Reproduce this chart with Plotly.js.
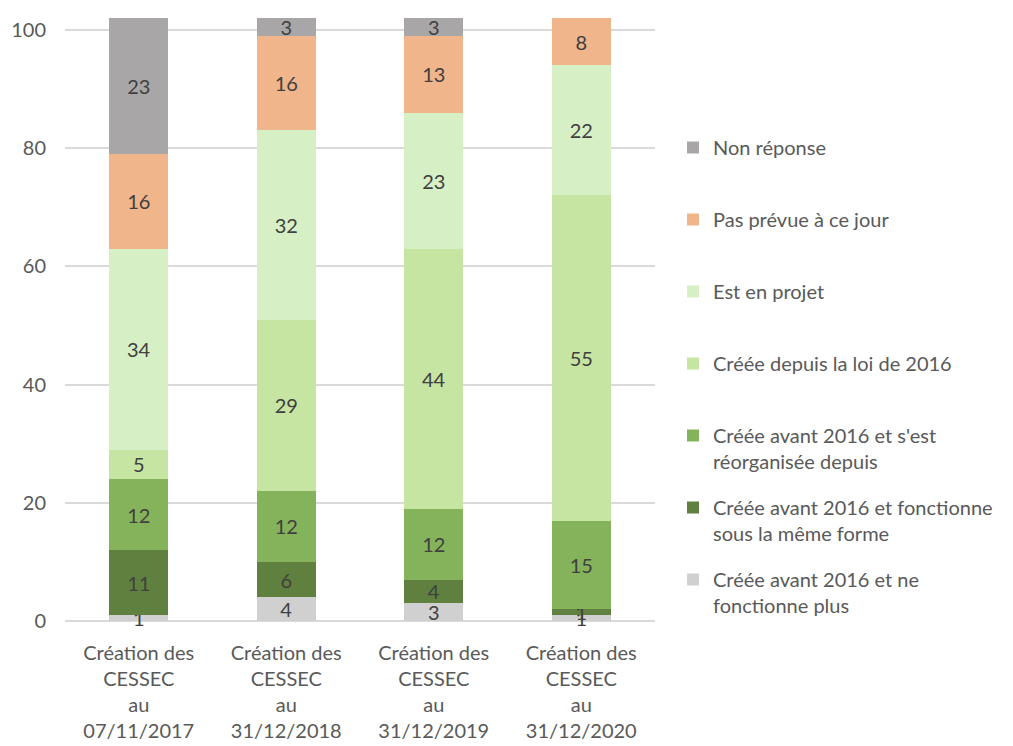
<!DOCTYPE html>
<html>
<head>
<meta charset="utf-8">
<script src="https://cdn.plot.ly/plotly-3.0.1.min.js"></script>
<style>html,body{margin:0;padding:0;background:#fff;}#chart{width:1013px;height:746px;}</style>
</head>
<body>
<div id="chart"></div>
<script>
const categories = [
  "Création des<br>CESSEC<br>au<br>07/11/2017",
  "Création des<br>CESSEC<br>au<br>31/12/2018",
  "Création des<br>CESSEC<br>au<br>31/12/2019",
  "Création des<br>CESSEC<br>au<br>31/12/2020"
];
const seriesNames = [
  "Créée avant 2016 et ne<br>fonctionne plus",
  "Créée avant 2016 et fonctionne<br>sous la même forme",
  "Créée avant 2016 et s'est<br>réorganisée depuis",
  "Créée depuis la loi de 2016<br> ",
  "Est en projet<br> ",
  "Pas prévue à ce jour<br> ",
  "Non réponse<br> "
];
const neFonctionnePlus = [1, 4, 3, 1];
const memeForme = [11, 6, 4, 1];
const reorganisee = [12, 12, 12, 15];
const depuisLoi = [5, 29, 44, 55];
const enProjet = [34, 32, 23, 22];
const pasPrevue = [16, 16, 13, 8];
const nonReponse = [23, 3, 3, 0];
const yTicks = [0, 20, 40, 60, 80, 100];

const seriesValues = [neFonctionnePlus, memeForme, reorganisee, depuisLoi, enProjet, pasPrevue, nonReponse];
const colors = ["#d0d0d0", "#5f803e", "#85b35b", "#c6e4a2", "#d7efc5", "#f0b58b", "#a8a6a6"];

const FONT = "Lato, 'Open Sans', sans-serif";
const FS = 20;
const traces = seriesValues.map((vals, i) => ({
  type: "bar",
  name: seriesNames[i],
  legendgroup: "g" + i,
  legendrank: 1000 - i * 10,
  x: categories,
  y: vals,
  text: vals.map(v => v ? String(v) : ""),
  textposition: "inside",
  insidetextanchor: "middle",
  constraintext: "none",
  cliponaxis: false,
  textangle: 0,
  textfont: {family: FONT, size: FS, color: "#404040"},
  marker: {color: colors[i], line: {width: 0}},
  hoverinfo: "skip"
}));

const layout = {
  width: 1013,
  height: 746,
  barmode: "stack",
  bargap: 0.6,
  paper_bgcolor: "#ffffff",
  plot_bgcolor: "#ffffff",
  margin: {l: 65, r: 358, t: 18, b: 125},
  font: {family: FONT, size: FS, color: "#595959"},
  xaxis: {
    type: "category",
    showgrid: false,
    showline: false,
    zeroline: false,
    ticks: "",
    ticklabelstandoff: 18,
    tickfont: {family: FONT, size: FS, color: "#595959"},
    automargin: false
  },
  yaxis: {
    range: [0, 102],
    tickvals: yTicks,
    ticktext: yTicks.map(String),
    showgrid: true,
    gridcolor: "#d9d9d9",
    gridwidth: 2,
    zeroline: true,
    zerolinecolor: "#d9d9d9",
    zerolinewidth: 2,
    showline: false,
    ticks: "",
    ticklabelstandoff: 18,
    tickfont: {family: FONT, size: FS, color: "#595959"},
    automargin: false
  },
  showlegend: true,
  legend: {
    xref: "container",
    yref: "container",
    x: 673 / 1013,
    xanchor: "left",
    y: 1 - 128 / 746,
    yanchor: "top",
    traceorder: "grouped",
    tracegroupgap: 17,
    valign: "top",
    maxheight: 700,
    font: {family: FONT, size: FS, color: "#595959"},
    bgcolor: "rgba(0,0,0,0)",
    borderwidth: 0
  }
};

Plotly.newPlot("chart", traces, layout, {displayModeBar: false, staticPlot: true});
</script>
</body>
</html>
